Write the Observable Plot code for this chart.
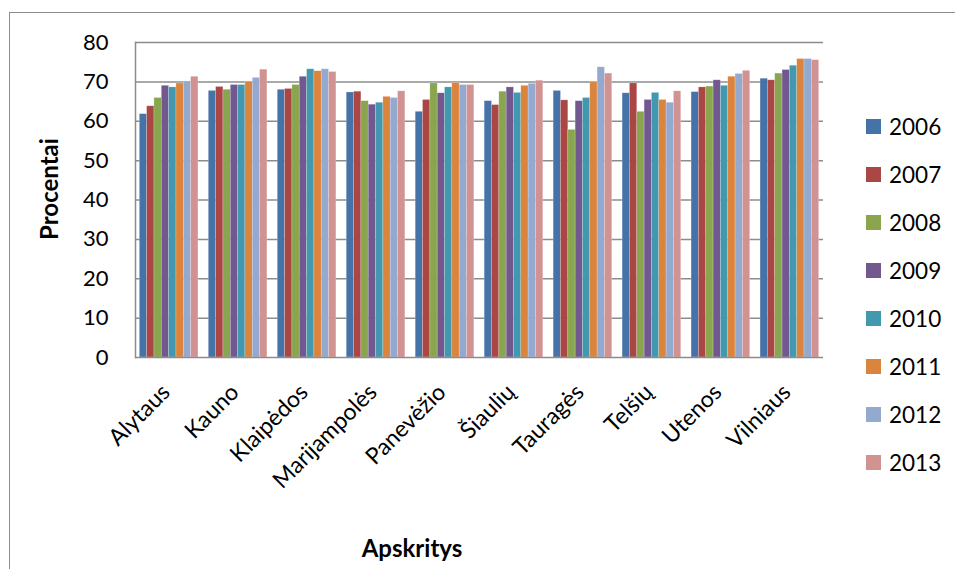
<!DOCTYPE html>
<html>
<head>
<meta charset="utf-8">
<script src="https://cdn.jsdelivr.net/npm/d3@7"></script>
<script src="https://cdn.jsdelivr.net/npm/@observablehq/plot@0.6"></script>
<style>
  html, body { margin: 0; padding: 0; background: #fff; }
  #wrap { position: relative; width: 955px; height: 569px; overflow: hidden; font-family: Lato, "Open Sans", sans-serif; }
  #border { position: absolute; left: 9px; top: 12px; width: 980px; height: 600px; border: 1.5px solid #8c8c8c; box-sizing: border-box; }
  #legend { position: absolute; left: 866px; top: 0; }
  .item { position: absolute; left: 0; display: flex; align-items: center; white-space: nowrap; }
  .sw { width: 15px; height: 15px; margin-right: 8px; }
  .lab { font-size: 22.5px; color: #000; }
  #xlabel { position: absolute; left: 412px; top: 547px; transform: translate(-50%, -50%); font-weight: bold; font-size: 24px; }
  #ylabel { position: absolute; left: 48px; top: 189px; transform: translate(-50%, -50%) rotate(-90deg); font-weight: bold; font-size: 24px; white-space: nowrap; }
  #wrap svg { position: absolute; left: 0; top: 0; }
</style>
</head>
<body>
<div id="wrap">
  <div id="border"></div>
  <div id="chart"></div>
  <div id="legend"></div>
  <div id="xlabel">Apskritys</div>
  <div id="ylabel">Procentai</div>
</div>
<script>
const regions = ["Alytaus", "Kauno", "Klaipėdos", "Marijampolės", "Panevėžio", "Šiaulių", "Tauragės", "Telšių", "Utenos", "Vilniaus"];
const years = ["2006", "2007", "2008", "2009", "2010", "2011", "2012", "2013"];
const colors = ["#4572A7", "#AA4643", "#89A54E", "#71588F", "#4198AF", "#DB843D", "#93A9CF", "#D19392"];
const yTicks = [0, 10, 20, 30, 40, 50, 60, 70, 80];

const v2006 = [61.8, 67.7, 68.0, 67.3, 62.4, 65.1, 67.7, 67.1, 67.4, 70.8];
const v2007 = [63.8, 68.7, 68.2, 67.5, 65.4, 64.1, 65.3, 69.6, 68.6, 70.4];
const v2008 = [65.9, 68.0, 69.2, 65.1, 69.6, 67.5, 57.8, 62.4, 68.8, 72.1];
const v2009 = [69.0, 69.2, 71.3, 64.2, 67.1, 68.6, 65.1, 65.4, 70.4, 73.0];
const v2010 = [68.6, 69.2, 73.2, 64.7, 68.6, 67.2, 65.9, 67.2, 69.0, 74.1];
const v2011 = [69.6, 70.0, 72.7, 66.2, 69.7, 69.0, 69.9, 65.4, 71.3, 75.8];
const v2012 = [70.1, 71.0, 73.2, 65.9, 69.2, 69.5, 73.7, 64.7, 72.0, 75.8];
const v2013 = [71.3, 73.1, 72.5, 67.6, 69.2, 70.3, 72.1, 67.6, 72.8, 75.5];
const series = [v2006, v2007, v2008, v2009, v2010, v2011, v2012, v2013];

const data = [];
regions.forEach((r, i) => years.forEach((y, j) => data.push({region: r, year: y, value: series[j][i]})));

const common = {
  width: 955,
  height: 569,
  marginLeft: 135,
  marginRight: 132,
  marginTop: 42,
  marginBottom: 212,
  style: {fontFamily: "Lato, 'Open Sans', sans-serif", background: "transparent", color: "#000"}
};

// background: gridlines, y axis, left axis line
const back = Plot.plot({
  ...common,
  y: {domain: [0, 80], axis: null},
  marks: [
    Plot.ruleY(yTicks.slice(1), {stroke: "#8c8c8c", strokeWidth: 1.5}),
    Plot.axisY({ticks: yTicks, tickSize: 0, tickPadding: 27, fontSize: 22, label: null, tickFormat: d => String(d)}),
    Plot.frame({anchor: "left", stroke: "#8c8c8c", strokeWidth: 1.5})
  ]
});

// foreground: grouped bars and category axis
const front = Plot.plot({
  ...common,
  fx: {domain: regions, paddingInner: 0.15, paddingOuter: 0.0625, round: false, label: null},
  x: {domain: years, padding: 0, round: false, axis: null},
  y: {domain: [0, 80], axis: null},
  color: {domain: years, range: colors},
  marks: [
    Plot.barY(data, {fx: "region", x: "year", y: "value", fill: "year", stroke: "#fff", strokeOpacity: 0.35, strokeWidth: 0.6}),
    Plot.axisFx({anchor: "bottom", tickRotate: -45, tickSize: 0, tickPadding: 31, dx: -3, fontSize: 23, label: null})
  ]
});

const bottomLine = Plot.plot({
  ...common,
  y: {domain: [0, 80], axis: null},
  marks: [Plot.ruleY([0], {stroke: "#8c8c8c", strokeWidth: 1.5})]
});

const host = document.getElementById("chart");
host.appendChild(back);
host.appendChild(front);
host.appendChild(bottomLine);

const legend = document.getElementById("legend");
years.forEach((y, j) => {
  const it = document.createElement("div");
  it.className = "item";
  it.style.top = (126 + j * 48.1 - 14) + "px";
  it.style.height = "28px";
  it.innerHTML = `<div class="sw" style="background:${colors[j]}"></div><span class="lab">${y}</span>`;
  legend.appendChild(it);
});
</script>
</body>
</html>
